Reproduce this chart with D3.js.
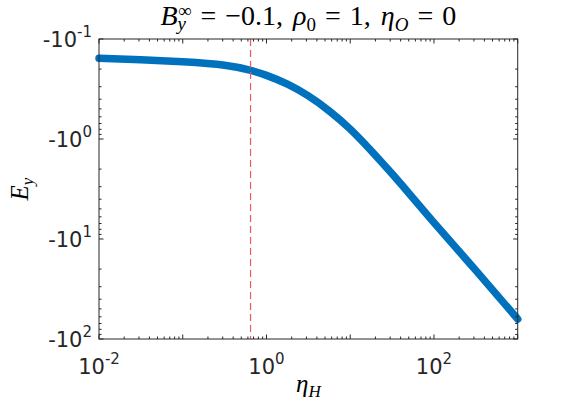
<!DOCTYPE html>
<html>
<head>
<meta charset="utf-8">
<script src="https://cdn.jsdelivr.net/npm/d3@7"></script>
<style>
  body { margin: 0; background: #fff; }
  svg { display: block; }
  .tick-lbl { font-family: "DejaVu Sans", sans-serif; font-size: 21px; fill: #262626; }
  .tex { font-family: "Liberation Serif", "DejaVu Serif", serif; fill: #000; }
</style>
</head>
<body>
<div id="chart"></div>
<script>
// values
var etaH = [0.01, 0.0316, 0.1, 0.316, 0.631, 1, 1.78, 3.16, 5.62, 10, 17.8, 31.6, 56.2, 100, 316, 1000];
var Ey = [-0.156, -0.161, -0.169, -0.183, -0.205, -0.231, -0.283, -0.371, -0.524, -0.796, -1.31, -2.23, -3.90, -6.86, -20.6, -63.2];
var etaMark = 0.645;
var xTicks = [1e-2, 1e0, 1e2];
var xTickExp = ["-2", "0", "2"];
var yTicks = [-0.1, -1, -10, -100];
var yTickExp = ["-1", "0", "1", "2"];

var W = 572, H = 414;
var margin = {top: 39, right: 54.3, bottom: 75, left: 99};
var width = W - margin.left - margin.right;
var height = H - margin.top - margin.bottom;

var svg = d3.select("#chart").append("svg")
    .attr("width", W)
    .attr("height", H);

var g = svg.append("g")
    .attr("transform", "translate(" + margin.left + "," + margin.top + ")");

var x = d3.scaleLog().domain([1e-2, 1e3]).range([0, width]);
var y = d3.scaleLog().domain([-0.1, -100]).range([0, height]);

// minor tick values
var xMinor = [];
for (var e = -2; e < 3; e++) for (var k = 2; k < 10; k++) xMinor.push(k * Math.pow(10, e));
var yMinor = [];
for (var e2 = -1; e2 < 2; e2++) for (var k2 = 2; k2 < 10; k2++) yMinor.push(-k2 * Math.pow(10, e2));

// curve
var line = d3.line()
    .x(function (d) { return x(d[0]); })
    .y(function (d) { return y(d[1]); })
    .curve(d3.curveNatural);

g.append("path")
    .datum(d3.zip(etaH, Ey))
    .attr("d", line)
    .attr("fill", "none")
    .attr("stroke", "#0072BD")
    .attr("stroke-width", 7.5)
    .attr("stroke-linecap", "round")
    .attr("stroke-linejoin", "round");

// dashed marker line
g.append("line")
    .attr("x1", x(etaMark)).attr("x2", x(etaMark))
    .attr("y1", 0).attr("y2", height)
    .attr("stroke", "#ec5a60")
    .attr("stroke-width", 1.2)
    .attr("stroke-dasharray", "7,4");

// ticks, inward on all four sides
var ticks = g.append("g").attr("stroke", "#262626").attr("stroke-width", 1);
function vTicks(vals, len) {
    vals.forEach(function (v) {
        var px = x(v);
        ticks.append("line").attr("x1", px).attr("x2", px).attr("y1", height).attr("y2", height - len);
        ticks.append("line").attr("x1", px).attr("x2", px).attr("y1", 0).attr("y2", len);
    });
}
function hTicks(vals, len) {
    vals.forEach(function (v) {
        var py = y(v);
        ticks.append("line").attr("x1", 0).attr("x2", len).attr("y1", py).attr("y2", py);
        ticks.append("line").attr("x1", width).attr("x2", width - len).attr("y1", py).attr("y2", py);
    });
}
vTicks(xMinor, 2.5);
vTicks(d3.range(-2, 4).map(function (p) { return Math.pow(10, p); }), 4.5);
hTicks(yMinor, 2.5);
hTicks(yTicks, 4.5);

g.append("rect")
    .attr("width", width).attr("height", height)
    .attr("fill", "none").attr("stroke", "#262626").attr("stroke-width", 1);

// x tick labels
xTicks.forEach(function (v, i) {
    var t = g.append("text").attr("class", "tick-lbl")
        .attr("x", x(v)).attr("y", height + 35)
        .attr("text-anchor", "middle");
    t.append("tspan").text("10");
    t.append("tspan").attr("dy", -10).attr("font-size", 15).text(xTickExp[i]);
});

// y tick labels
yTicks.forEach(function (v, i) {
    var t = g.append("text").attr("class", "tick-lbl")
        .attr("x", -7).attr("y", y(v) + 8)
        .attr("text-anchor", "end");
    t.append("tspan").text("-10");
    t.append("tspan").attr("dy", -10).attr("font-size", 15).text(yTickExp[i]);
});

// title (LaTeX-like spacing)
var title = svg.append("text").attr("class", "tex")
    .attr("x", margin.left + width / 2).attr("y", 25)
    .attr("text-anchor", "middle")
    .attr("font-size", 28);
title.append("tspan").attr("font-style", "italic").text("B");
title.append("tspan").attr("font-size", 19).attr("dy", 5).attr("font-style", "italic").text("y");
title.append("tspan").attr("font-size", 19).attr("dx", -8).attr("dy", -13).text("∞");
title.append("tspan").attr("dy", 8).attr("dx", 9).text("=");
title.append("tspan").attr("dx", 9).text("−0.1,");
title.append("tspan").attr("dx", 10).attr("font-style", "italic").text("ρ");
title.append("tspan").attr("font-size", 19).attr("dy", 6).text("0");
title.append("tspan").attr("dy", -6).attr("dx", 9).text("=");
title.append("tspan").attr("dx", 9).text("1,");
title.append("tspan").attr("dx", 10).attr("font-style", "italic").text("η");
title.append("tspan").attr("font-size", 19).attr("dy", 6).attr("font-style", "italic").text("O");
title.append("tspan").attr("dy", -6).attr("dx", 9).text("=");
title.append("tspan").attr("dx", 9).text("0");

// axis labels
var xl = svg.append("text").attr("class", "tex")
    .attr("x", margin.left + width / 2).attr("y", 392)
    .attr("text-anchor", "middle").attr("font-size", 25);
xl.append("tspan").attr("font-style", "italic").text("η");
xl.append("tspan").attr("font-size", 17).attr("dy", 5).attr("font-style", "italic").text("H");

var yl = svg.append("text").attr("class", "tex")
    .attr("transform", "translate(28," + (margin.top + height / 2) + ") rotate(-90)")
    .attr("text-anchor", "middle").attr("font-size", 25);
yl.append("tspan").attr("font-style", "italic").text("E");
yl.append("tspan").attr("font-size", 17).attr("dy", 5).attr("font-style", "italic").text("y");
</script>
</body>
</html>
